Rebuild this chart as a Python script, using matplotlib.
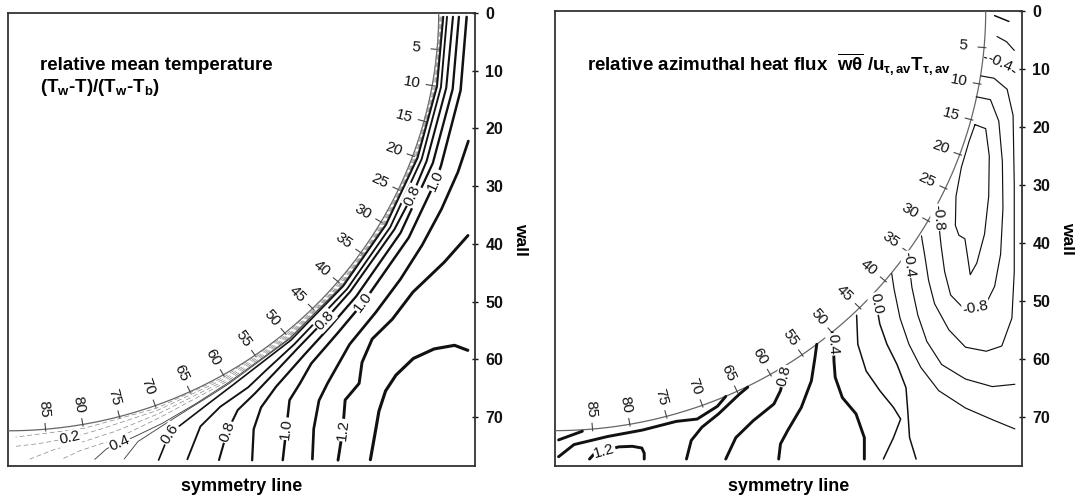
import numpy as np
import matplotlib.pyplot as plt

plt.rcParams['font.family'] = ['Liberation Sans', 'DejaVu Sans']
plt.rcParams['mathtext.fontset'] = 'custom'
plt.rcParams['mathtext.rm'] = 'Liberation Sans:bold'
plt.rcParams['mathtext.it'] = 'Liberation Sans:bold'
plt.rcParams['mathtext.bf'] = 'Liberation Sans:bold'

ROD_R = 72.4          # rod radius, rod centre sits in the top-left corner
BOX = 78.5            # side of the plotted sub-channel box

angle_marks = [5, 10, 15, 20, 25, 30, 35, 40, 45, 50, 55, 60, 65, 70, 75, 80, 85]
wall_ticks = [0, 10, 20, 30, 40, 50, 60, 70]

# mean temperature: (level, angle along rod [deg], distance from rod surface)
temp_lines = [
    (0.1, [0.5, 10, 20, 30, 40, 50, 60, 70, 80, 89],
          [0.2, 0.2, 0.25, 0.3, 0.3, 0.35, 0.4, 0.5, 0.7, 1.1]),
    (0.2, [0.5, 10, 20, 30, 40, 50, 60, 70, 78, 82, 86, 89],
          [0.35, 0.4, 0.45, 0.5, 0.55, 0.6, 0.7, 0.9, 1.4, 2.0, 2.4, 2.7]),
    (0.3, [0.5, 10, 20, 30, 40, 50, 60, 70, 76, 80.5, 84, 87.3],
          [0.5, 0.55, 0.6, 0.65, 0.7, 0.8, 1.0, 1.5, 2.3, 3.0, 3.6, 5.0]),
    (0.3, [0.5, 10, 20, 30, 40, 50, 60, 70, 76.2, 80.9, 83.2],
          [0.6, 0.65, 0.7, 0.75, 0.85, 1.0, 1.3, 2.2, 3.6, 4.4, 5.4]),
    (0.4, [0.5, 10, 20, 30, 40, 50, 60, 65, 70, 74.1, 75.9, 77.6, 79.3],
          [0.65, 0.7, 0.75, 0.85, 1.0, 1.2, 1.6, 2.3, 3.3, 4.1, 4.4, 4.9, 6.3]),
    (0.5, [0.5, 10, 20, 30, 40, 50, 60, 62.7, 65.9, 69.8, 73.6, 75.8],
          [0.7, 0.75, 0.8, 0.9, 1.05, 1.3, 1.8, 2.1, 2.6, 3.6, 5.0, 7.3]),
    (0.6, [0.5, 10, 20, 30, 40, 50, 60, 63.5, 67.7, 69.6, 71.9],
          [0.8, 0.85, 0.9, 1.0, 1.2, 1.6, 2.4, 3.2, 4.6, 5.4, 9.1]),
    (0.7, [0.5, 10, 20, 30, 40, 50, 55, 58.1, 62.4, 65.7, 68.7],
          [1.4, 1.5, 1.6, 1.8, 2.0, 2.5, 3.2, 4.0, 4.6, 6.2, 10.6]),
    (0.8, [0.5, 10, 20, 25, 30, 40, 45, 50, 54, 57.8, 60.7, 63.1, 65.4],
          [2.4, 2.4, 2.5, 2.55, 2.6, 2.7, 2.9, 3.4, 4.3, 5.5, 6.5, 9.0, 12.8]),
    (0.9, [0.5, 10, 20, 30, 40, 45, 50, 55.2, 58.1, 60.2, 62.1],
          [3.4, 3.5, 3.6, 3.8, 4.0, 4.3, 5.0, 6.5, 8.1, 10.7, 15.3]),
    (1.0, [0.5, 10, 20, 22, 30, 40, 45, 50, 52.6, 54.8, 57.0, 59.2],
          [4.7, 4.85, 5.05, 5.15, 5.4, 5.6, 6.0, 6.9, 8.4, 9.7, 13.5, 17.8]),
    (1.1, [16, 20, 25, 30, 35, 40, 45, 50.1, 52.1, 54.5, 56.5],
          [8.1, 8.1, 8.0, 8.0, 8.1, 8.3, 8.8, 11.3, 12.7, 16.1, 20.3]),
    (1.2, [26.5, 30.5, 35.4, 39.4, 42.7, 45.5, 47.4, 49.8, 52.1, 54.4],
          [14.0, 12.7, 11.1, 11.2, 10.9, 12.5, 14.8, 15.4, 19.2, 22.9]),
    (1.3, [37.1, 37.5, 39.1, 41.3, 43.9, 45.9, 47.9, 49.4, 51.8],
          [24.5, 22.2, 19.9, 18.3, 18.1, 18.8, 20.6, 22.6, 26.1]),
]
# (line, point) where the level is written
temp_labels = [(1, 9), (4, 10), (6, 9), (8, 3), (8, 6), (8, 11),
               (10, 3), (10, 5), (10, 10), (12, 8)]

# azimuthal heat flux: (level, x, y) in box units
flux_lines = [
    (-1.2, [70.6, 72.4, 73.0, 72.9, 72.2, 70.9, 69.8, 69.3, 68.9, 67.9, 67.3, 67.4, 68.3, 69.6, 70.6],
           [19.6, 20.3, 25.0, 32.0, 38.5, 43.5, 45.5, 42.0, 39.3, 38.7, 37.0, 32.0, 27.0, 22.5, 19.6]),
    (-0.8, [70.8, 73.2, 74.6, 75.2, 75.3, 74.9, 73.9, 72.6, 70.7, 68.4, 66.5, 65.5, 64.9, 64.4, 64.4],
           [14.8, 15.3, 19.0, 26.0, 34.0, 42.0, 47.5, 50.2, 51.1, 51.0, 49.0, 45.0, 40.5, 35.6, 33.3]),
    (-0.6, [71.6, 73.8, 76.0, 77.0, 77.2, 77.2, 76.8, 75.1, 72.5, 69.0, 66.2, 63.8, 62.8, 62.2, 61.6],
           [11.2, 11.6, 13.5, 18.0, 30.0, 45.0, 53.0, 57.8, 58.7, 58.0, 55.0, 50.5, 46.5, 42.5, 38.8]),
    (-0.4, [72.2, 74.8, 76.5, 77.3],
           [8.0, 9.0, 10.0, 10.6]),
    (-0.4, [59.3, 59.5, 60.0, 61.0, 62.5, 65.0, 69.0, 73.5, 77.3],
           [41.6, 43.7, 47.7, 52.5, 57.0, 61.0, 63.5, 64.8, 64.4]),
    (-0.2, [56.6, 57.0, 58.0, 59.5, 61.5, 64.5, 69.0, 73.5, 77.3],
           [45.3, 48.0, 53.0, 57.5, 61.5, 65.5, 68.5, 70.5, 72.1]),
    (-0.2, [74.3, 75.9, 77.2],
           [4.4, 5.3, 6.8]),
    (0.0, [53.6, 54.0, 54.6, 55.8, 57.5, 59.0, 59.3, 59.6, 60.7],
          [48.8, 50.5, 54.0, 57.5, 61.0, 65.0, 69.0, 73.6, 77.3]),
    (0.0, [73.9, 76.3],
          [0.8, 1.8]),
    (0.2, [50.7, 50.9, 52.3, 54.6, 56.9, 58.1, 56.9, 55.2],
          [52.5, 57.5, 62.1, 65.5, 68.4, 70.4, 73.6, 77.3]),
    (0.4, [46.6, 46.8, 46.9, 47.1, 48.3, 50.6, 52.0, 52.0],
          [55.5, 57.5, 60.5, 63.2, 66.7, 69.5, 73.6, 77.3]),
    (0.6, [44.0, 43.7, 43.1, 41.4, 39.1, 37.9, 37.6],
          [57.5, 59.8, 63.8, 68.4, 72.4, 74.7, 77.3]),
    (0.8, [38.8, 38.5, 37.9, 36.8, 33.3, 30.4, 28.7],
          [61.8, 63.0, 65.5, 67.8, 70.7, 73.6, 77.3]),
    (1.0, [32.4, 31.0, 27.5, 24.7, 22.9, 22.1],
          [64.9, 66.1, 69.5, 71.8, 74.1, 77.3]),
    (1.0, [28.7, 27.3, 23.9, 20.4, 14.7, 8.9, 3.2, 0.6],
          [66.5, 68.2, 70.4, 70.8, 72.3, 73.4, 74.8, 76.9]),
    (0.8, [0.6, 4.6],
          [74.0, 72.5]),
    (1.2, [5.8, 6.6, 8.3, 10.7, 13.0, 14.6, 15.0, 15.0],
          [77.3, 76.4, 75.9, 75.2, 75.1, 75.4, 76.3, 77.3]),
]
flux_labels = [(1, 8), (1, 13), (3, 1), (4, 1), (7, 1), (10, 1), (12, 1), (16, 2)]


def rod_xy(phi, dist):
    a = np.radians(phi)
    r = ROD_R + np.asarray(dist)
    return r * np.cos(a), r * np.sin(a)


def label_line(ax, x, y, i, value):
    # rotate the label along the line, measured on screen
    j0, j1 = max(i - 1, 0), min(i + 1, len(x) - 1)
    p0 = ax.transData.transform((x[j0], y[j0]))
    p1 = ax.transData.transform((x[j1], y[j1]))
    ang = np.degrees(np.arctan2(p1[1] - p0[1], p1[0] - p0[0]))
    if ang > 90:
        ang -= 180
    if ang < -90:
        ang += 180
    ax.text(x[i], y[i], f"{value:.1f}", fontsize=11, rotation=ang,
            ha='center', va='center', rotation_mode='anchor', color='#111',
            bbox=dict(boxstyle='square,pad=0.05', fc='white', ec='none'),
            zorder=5)


def setup_panel(ax):
    ax.set_xlim(0, BOX)
    ax.set_ylim(BOX, 0)
    ax.set_xticks([])
    ax.yaxis.tick_right()
    ax.set_yticks(wall_ticks)
    ax.tick_params(axis='y', direction='inout', length=5, width=1,
                   labelsize=11.5, pad=5, colors='#111')
    for lbl in ax.get_yticklabels():
        lbl.set_fontweight('bold')
    for s in ax.spines.values():
        s.set_linewidth(1.3)
        s.set_color('#333')

    # rod surface with angle marks
    t = np.linspace(0, 90, 300)
    ax.plot(ROD_R * np.cos(np.radians(t)), ROD_R * np.sin(np.radians(t)),
            color='#666', lw=0.9, zorder=3)
    for a in angle_marks:
        xa, ya = rod_xy([a, a], [-1.0, 0.3])
        ax.plot(xa, ya, color='#444', lw=0.8, zorder=3)
        xl, yl = rod_xy(a, -3.5)
        ax.text(xl, yl, str(a), fontsize=11, rotation=-a, ha='center',
                va='center', rotation_mode='anchor', color='#111')

    ax.text(1.098, 0.5, 'wall', transform=ax.transAxes, rotation=270,
            fontsize=12.5, fontweight='bold', ha='center', va='center')
    ax.text(0.5, -0.046, 'symmetry line', transform=ax.transAxes,
            fontsize=13, fontweight='bold', ha='center', va='center')


fig = plt.figure(figsize=(10.75, 5.0), dpi=100)
ax1 = fig.add_axes([8 / 1075, 34 / 500, 467 / 1075, 453 / 500])
ax2 = fig.add_axes([555 / 1075, 34 / 500, 467 / 1075, 455 / 500])
setup_panel(ax1)
setup_panel(ax2)

# left: relative mean temperature, faint broken lines close to the rod
for level, phi, dist in temp_lines:
    x, y = rod_xy(phi, dist)
    if level < 0.35:
        ax1.plot(x, y, color='#888', lw=0.5, ls=(0, (7, 4)), zorder=4)
    elif level < 0.55:
        ax1.plot(x, y, color='#444', lw=0.65, zorder=4)
    else:
        ax1.plot(x, y, color='#111', lw=0.3 + 1.5 * level, zorder=4,
                 solid_capstyle='round')
for k, i in temp_labels:
    level, phi, dist = temp_lines[k]
    x, y = rod_xy(phi, dist)
    label_line(ax1, x, y, i, level)

ax1.text(0.0685, 0.885, 'relative mean temperature', transform=ax1.transAxes,
         fontsize=13.5, fontweight='bold', va='center')
ax1.text(0.0685, 0.835, r'(T$_{w}$-T)/(T$_{w}$-T$_{b}$)', transform=ax1.transAxes,
         fontsize=13.5, fontweight='bold', va='center')

# right: relative azimuthal heat flux, positive levels drawn heavy
for level, x, y in flux_lines:
    if level > 0.3:
        lw = 2.1
    elif level >= 0:
        lw = 1.1
    else:
        lw = 0.85
    ax2.plot(x, y, color='#111', lw=lw, zorder=4, solid_capstyle='round')
for k, i in flux_labels:
    level, x, y = flux_lines[k]
    label_line(ax2, x, y, i, level)

ax2.text(0.0685, 0.881,
         r'relative azimuthal heat flux  $\overline{w\theta}$ /u$_{\tau,av}$T$_{\tau,av}$',
         transform=ax2.transAxes, fontsize=13.5, fontweight='bold', va='center')

fig.savefig('out.png', dpi=100)
